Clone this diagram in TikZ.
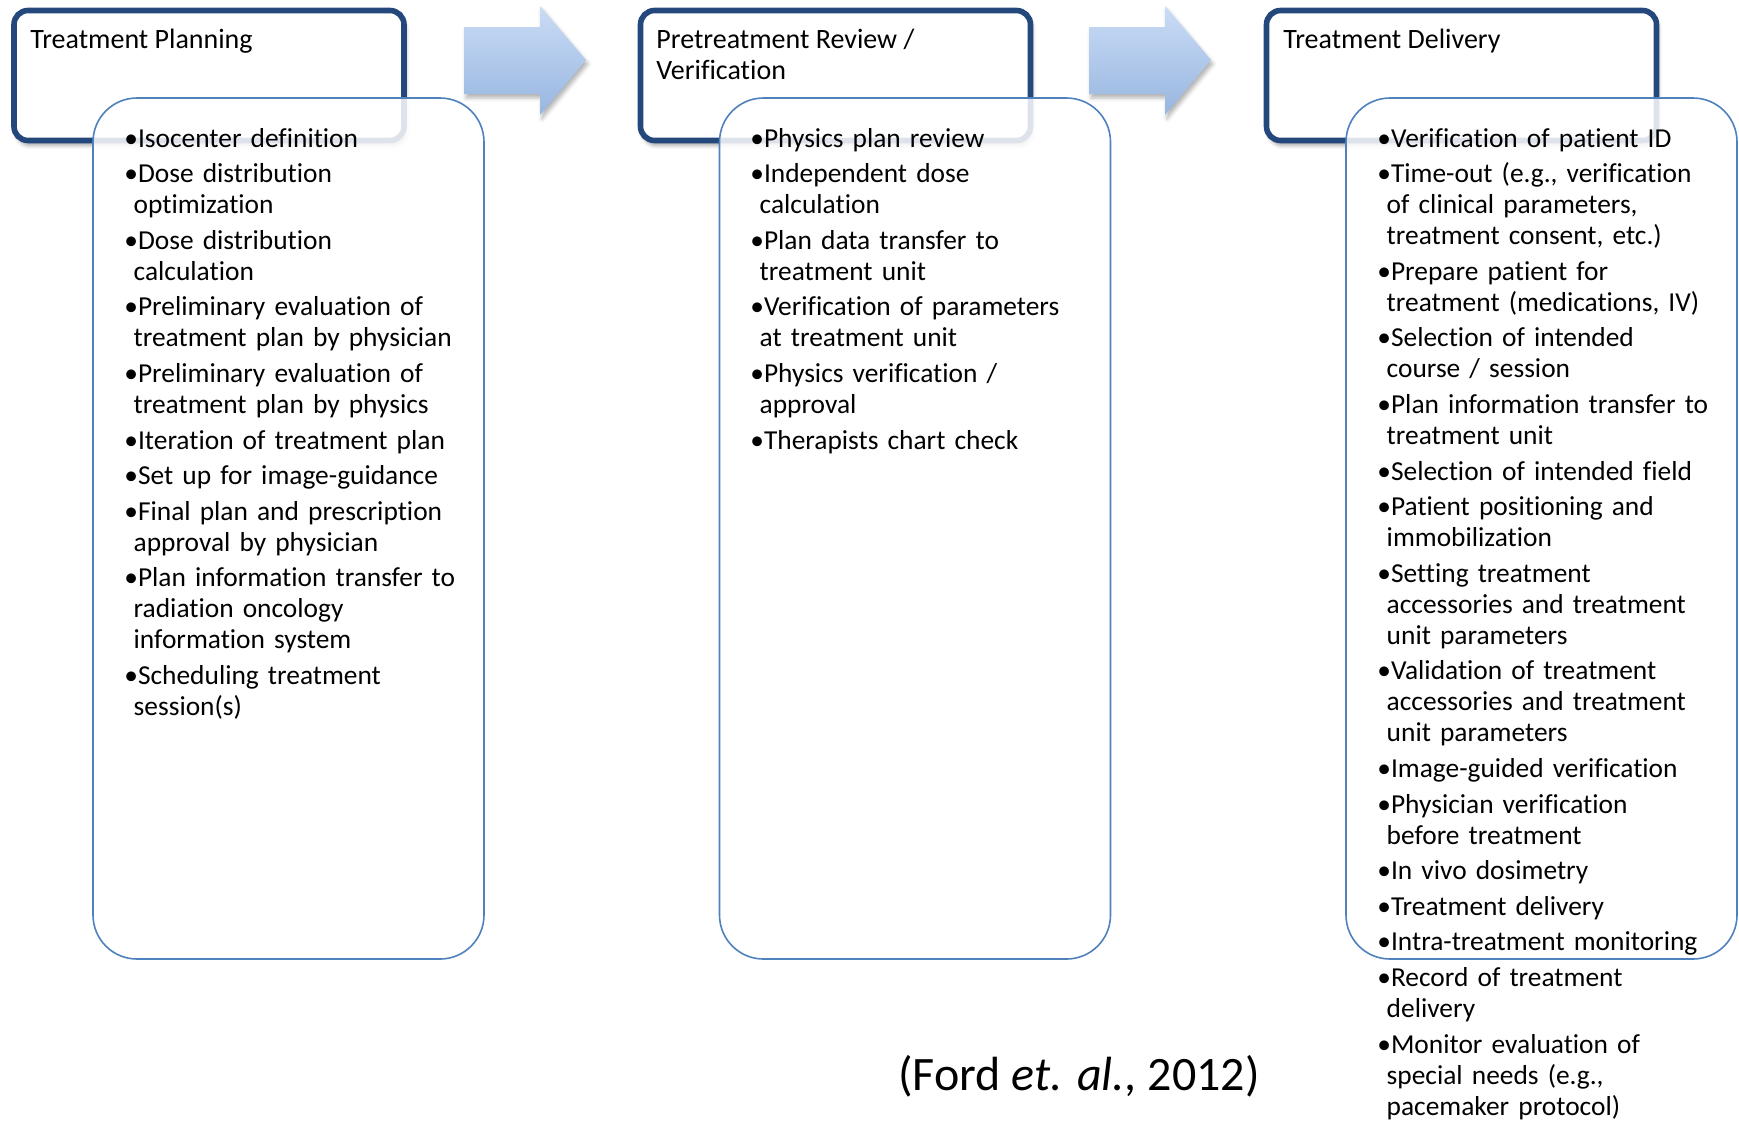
\documentclass[tikz,border=0pt]{standalone}
\usepackage{fontspec}
\setmainfont{Carlito}[Ligatures=NoCommon]
\usetikzlibrary{shadows.blur}
\definecolor{headblue}{RGB}{36,72,124}
\definecolor{listblue}{RGB}{79,129,189}
\definecolor{arrowtop}{RGB}{202,220,246}
\definecolor{arrowbot}{RGB}{152,182,224}
\newcommand{\qitem}[1]{\par\setlength{\parskip}{2.3pt}\hangindent=0.34em\hangafter=1\noindent\textbullet#1}
\begin{document}
\begin{tikzpicture}[x=0.5pt,y=-0.5pt,
    head box/.style={draw=headblue, line width=2.8pt, rounded corners=7pt, fill=white,
        minimum width=195pt, minimum height=65pt,
        blur shadow={shadow xshift=1pt, shadow yshift=-2.5pt, shadow opacity=35}},
    list box/.style={draw=listblue, line width=0.8pt, rounded corners=22pt, fill=white,
        fill opacity=0.85, minimum width=195.5pt, minimum height=430.5pt},
    head text/.style={anchor=north west, inner sep=0pt, align=left,
        font=\fontsize{14}{15.5}\selectfont},
    list text/.style={anchor=north west, inner sep=0pt, text width=185pt,
        font=\fontsize{13.7}{15.5}\selectfont\raggedright},
    flow arrow/.style={top color=arrowtop, bottom color=arrowbot,
        blur shadow={shadow xshift=1pt, shadow yshift=-2pt, shadow opacity=30}}]
\useasboundingbox (0,0) rectangle (1739,1121);
% stage headers
\node[head box] (plan head) at (209,75.5) {};
\node[head box] (review head) at (835.5,75.5) {};
\node[head box] (deliver head) at (1461.5,75.5) {};
\node[head text] (plan title) at (30,29) {Treatment Planning};
\node[head text] (review title) at (656,29) {Pretreatment Review /\\Verification};
\node[head text] (deliver title) at (1283,29) {Treatment Delivery};
% arrows between stages
\shade[flow arrow] (464,27)--(540,27)--(540,6)--(586,60)--(540,115)--(540,94)--(464,94)--cycle;
\shade[flow arrow] (1089,27)--(1165,27)--(1165,6)--(1211,60)--(1165,115)--(1165,94)--(1089,94)--cycle;
% task lists
\node[list box] (plan list) at (288.5,528.5) {};
\node[list box] (review list) at (915,528.5) {};
\node[list box] (deliver list) at (1541.5,528.5) {};
\node[list text] (plan items) at (124,111) {%
  \qitem{Isocenter definition}
  \qitem{Dose distribution\newline optimization}
  \qitem{Dose distribution\newline calculation}
  \qitem{Preliminary evaluation of\newline treatment plan by physician}
  \qitem{Preliminary evaluation of\newline treatment plan by physics}
  \qitem{Iteration of treatment plan}
  \qitem{Set up for image-guidance}
  \qitem{Final plan and prescription\newline approval by physician}
  \qitem{Plan information transfer to\newline radiation oncology\newline information system}
  \qitem{Scheduling treatment\newline session(s)}\par};
\node[list text] (review items) at (750,111) {%
  \qitem{Physics plan review}
  \qitem{Independent dose\newline calculation}
  \qitem{Plan data transfer to\newline treatment unit}
  \qitem{Verification of parameters\newline at treatment unit}
  \qitem{Physics verification /\newline approval}
  \qitem{Therapists chart check}\par};
\node[list text] (deliver items) at (1377,111) {%
  \qitem{Verification of patient ID}
  \qitem{Time-out (e.g., verification\newline of clinical parameters,\newline treatment consent, etc.)}
  \qitem{Prepare patient for\newline treatment (medications, IV)}
  \qitem{Selection of intended\newline course / session}
  \qitem{Plan information transfer to\newline treatment unit}
  \qitem{Selection of intended field}
  \qitem{Patient positioning and\newline immobilization}
  \qitem{Setting treatment\newline accessories and treatment\newline unit parameters}
  \qitem{Validation of treatment\newline accessories and treatment\newline unit parameters}
  \qitem{Image-guided verification}
  \qitem{Physician verification\newline before treatment}
  \qitem{In vivo dosimetry}
  \qitem{Treatment delivery}
  \qitem{Intra-treatment monitoring}
  \qitem{Record of treatment\newline delivery}
  \qitem{Monitor evaluation of\newline special needs (e.g.,\newline pacemaker protocol)}\par};
\node[font=\fontsize{24}{28}\selectfont] (source) at (1079,1076) {(Ford \textit{et. al.}, 2012)};
\end{tikzpicture}
\end{document}
